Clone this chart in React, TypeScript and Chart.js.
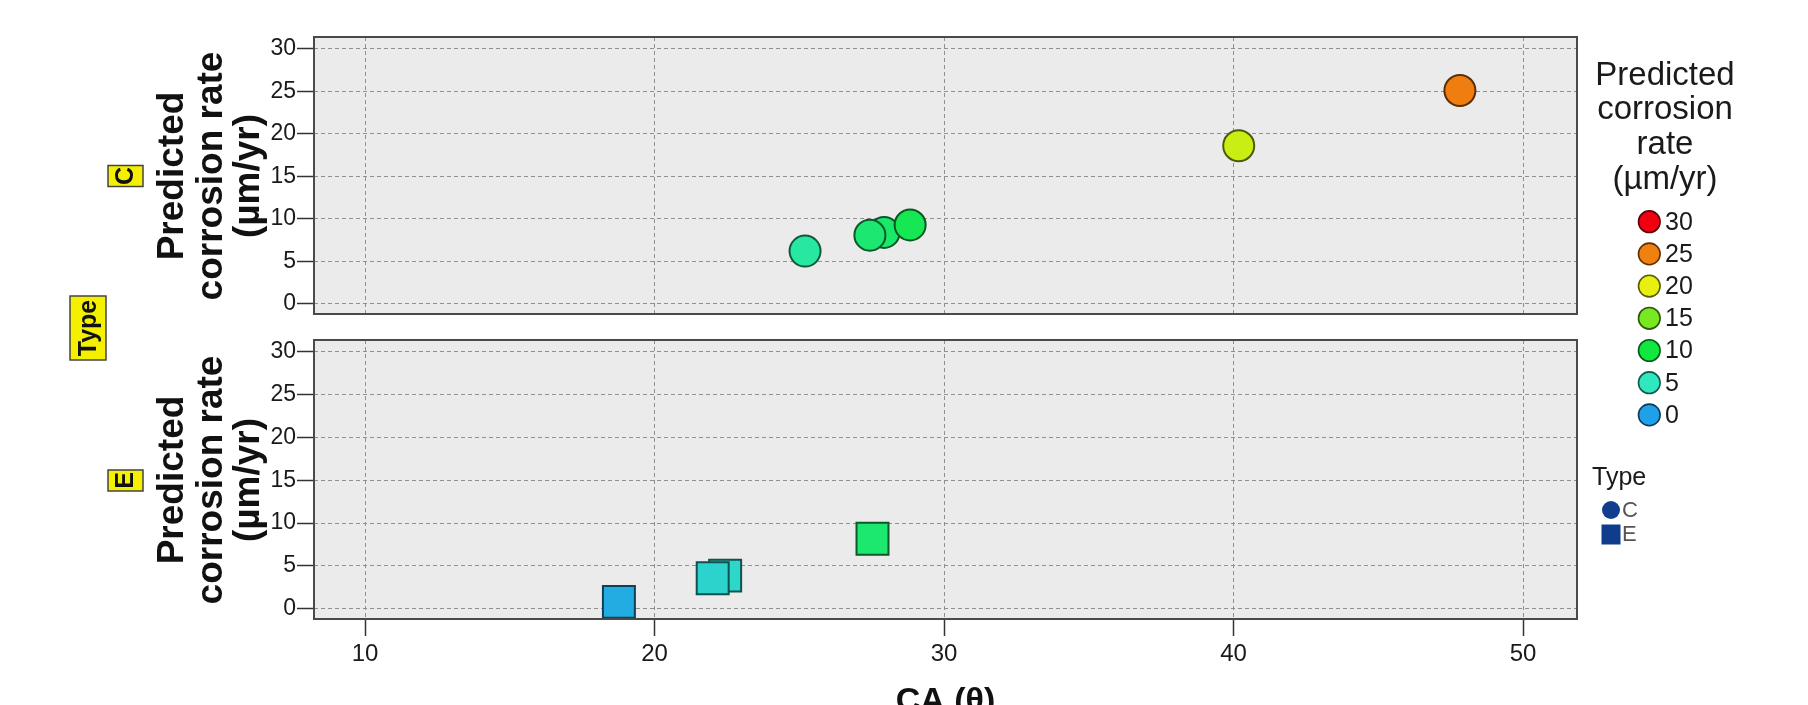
import React, { useEffect, useRef } from "react";
import { Chart, registerables } from "chart.js";

Chart.register(...registerables);

// ---- data ----
const X_TICKS = [10, 20, 30, 40, 50];
const Y_TICKS = [0, 5, 10, 15, 20, 25, 30];
const CA_C = [25.2, 27.93, 27.44, 28.83, 40.18, 47.82];
const RATE_C = [6.2, 8.4, 8.08, 9.28, 18.6, 25.1];
const CA_E = [18.77, 22.44, 22.01, 27.53];
const RATE_E = [0.8, 3.87, 3.56, 8.18];
const LEGEND_VALUES = [30, 25, 20, 15, 10, 5, 0];
const TYPE_LABELS = ["C", "E"];
const Y_TITLE = ["Predicted", "corrosion rate", "(µm/yr)"];
const LEGEND_TITLE = ["Predicted", "corrosion", "rate", "(µm/yr)"];
const X_TITLE = "CA (θ)";

// colour ramp (style)
const RAMP_STOPS = [0, 5, 10, 15, 20, 25, 30];
const RAMP_COLORS = [
  [32, 160, 232],
  [48, 232, 192],
  [16, 232, 64],
  [120, 232, 32],
  [232, 240, 16],
  [240, 128, 16],
  [240, 0, 16],
];

function ramp(v: number): number[] {
  if (v <= RAMP_STOPS[0]) return RAMP_COLORS[0];
  for (let i = 1; i < RAMP_STOPS.length; i++) {
    if (v <= RAMP_STOPS[i]) {
      const t = (v - RAMP_STOPS[i - 1]) / (RAMP_STOPS[i] - RAMP_STOPS[i - 1]);
      const a = RAMP_COLORS[i - 1];
      const b = RAMP_COLORS[i];
      return [0, 1, 2].map((k) => Math.round(a[k] + (b[k] - a[k]) * t));
    }
  }
  return RAMP_COLORS[RAMP_COLORS.length - 1];
}
const fillOf = (v: number) => {
  const c = ramp(v);
  return `rgb(${c[0]},${c[1]},${c[2]})`;
};
const borderOf = (v: number) => {
  const c = ramp(v).map((x) => Math.round(x * 0.38));
  return `rgb(${c[0]},${c[1]},${c[2]})`;
};

const FONT = "'Liberation Sans', Arial, Helvetica, sans-serif";
const W = 1808;
const H = 705;
const X_MIN = 8.238;
const X_MAX = 51.865;
const Y_MIN = -1.2;
const Y_MAX = 31.4;
const GRID_COLOR = "#909090";
const PANEL_BG = "#ebebeb";

function rotatedText(ctx: CanvasRenderingContext2D, text: string, x: number, y: number) {
  ctx.save();
  ctx.translate(x, y);
  ctx.rotate(-Math.PI / 2);
  ctx.fillText(text, 0, 0);
  ctx.restore();
}

function yTitle(ctx: CanvasRenderingContext2D, cy: number) {
  ctx.save();
  ctx.fillStyle = "#111";
  ctx.font = `bold 37px ${FONT}`;
  ctx.textAlign = "center";
  ctx.textBaseline = "alphabetic";
  const xs = [183, 222, 259];
  Y_TITLE.forEach((t, i) => rotatedText(ctx, t, xs[i], cy));
  ctx.restore();
}

function yellowLabel(ctx: CanvasRenderingContext2D, text: string, cx: number, cy: number, w: number, h: number, size: number) {
  ctx.save();
  ctx.fillStyle = "#f5ef00";
  ctx.fillRect(cx - w / 2, cy - h / 2, w, h);
  ctx.strokeStyle = "#444";
  ctx.lineWidth = 1.5;
  ctx.strokeRect(cx - w / 2, cy - h / 2, w, h);
  ctx.fillStyle = "#111";
  ctx.font = `bold ${size}px ${FONT}`;
  ctx.textAlign = "center";
  ctx.textBaseline = "middle";
  ctx.translate(cx + 1, cy);
  ctx.rotate(-Math.PI / 2);
  ctx.fillText(text, 0, 0);
  ctx.restore();
}

function panelBorder(chart: any) {
  const { ctx, chartArea: a } = chart;
  ctx.save();
  ctx.strokeStyle = "#4a4a4a";
  ctx.lineWidth = 2;
  ctx.strokeRect(a.left, a.top, a.right - a.left, a.bottom - a.top);
  ctx.restore();
}

function panelBg(chart: any) {
  const { ctx, chartArea: a } = chart;
  ctx.save();
  ctx.fillStyle = PANEL_BG;
  ctx.fillRect(a.left, a.top, a.right - a.left, a.bottom - a.top);
  ctx.restore();
}

const topPlugin = {
  id: "topDecor",
  beforeDraw(chart: any) {
    const ctx = chart.ctx;
    ctx.save();
    ctx.fillStyle = "#ffffff";
    ctx.fillRect(0, 0, W, H);
    ctx.restore();
    panelBg(chart);
  },
  afterDatasetsDraw(chart: any) {
    panelBorder(chart);
  },
  afterDraw(chart: any) {
    const ctx = chart.ctx as CanvasRenderingContext2D;
    yTitle(ctx, 176);
    yellowLabel(ctx, TYPE_LABELS[0], 125.5, 176, 35, 21, 25);
    yellowLabel(ctx, "Type", 88, 328, 36, 64, 25);
    yellowLabel(ctx, TYPE_LABELS[1], 125.5, 480.5, 35, 21, 25);

    // colour legend
    ctx.save();
    ctx.fillStyle = "#1a1a1a";
    ctx.font = `33px ${FONT}`;
    ctx.textAlign = "center";
    ctx.textBaseline = "alphabetic";
    const tb = [85, 119, 154, 189];
    LEGEND_TITLE.forEach((t, i) => ctx.fillText(t, 1665, tb[i]));
    LEGEND_VALUES.forEach((v, i) => {
      const cy = 221.7 + i * 32.2;
      ctx.beginPath();
      ctx.arc(1649.3, cy, 10.8, 0, Math.PI * 2);
      ctx.fillStyle = fillOf(v);
      ctx.fill();
      ctx.lineWidth = 1.6;
      ctx.strokeStyle = borderOf(v);
      ctx.stroke();
      ctx.fillStyle = "#1a1a1a";
      ctx.font = `25px ${FONT}`;
      ctx.textAlign = "left";
      ctx.textBaseline = "middle";
      ctx.fillText(String(v), 1665, cy + 1);
    });

    // type legend
    ctx.fillStyle = "#1a1a1a";
    ctx.font = `25px ${FONT}`;
    ctx.textAlign = "left";
    ctx.textBaseline = "alphabetic";
    ctx.fillText("Type", 1592, 485);
    ctx.beginPath();
    ctx.arc(1611, 510, 9, 0, Math.PI * 2);
    ctx.fillStyle = "#123d8f";
    ctx.fill();
    ctx.fillStyle = "#0f3c8c";
    ctx.fillRect(1601.5, 524.5, 19, 20);
    ctx.fillStyle = "#555";
    ctx.font = `22px ${FONT}`;
    ctx.textBaseline = "middle";
    ctx.fillText(TYPE_LABELS[0], 1622, 511);
    ctx.fillText(TYPE_LABELS[1], 1622, 535);
    ctx.restore();
  },
};

const bottomPlugin = {
  id: "bottomDecor",
  beforeDraw(chart: any) {
    panelBg(chart);
  },
  afterDatasetsDraw(chart: any) {
    panelBorder(chart);
  },
  afterDraw(chart: any) {
    const ctx = chart.ctx as CanvasRenderingContext2D;
    yTitle(ctx, 480);
    const a = chart.chartArea;
    ctx.save();
    ctx.fillStyle = "#111";
    ctx.font = `bold 34px ${FONT}`;
    ctx.textAlign = "center";
    ctx.textBaseline = "alphabetic";
    ctx.fillText(X_TITLE, (a.left + a.right) / 2, 711);
    ctx.restore();
  },
};

function yScale() {
  return {
    type: "linear",
    min: Y_MIN,
    max: Y_MAX,
    afterBuildTicks: (s: any) => {
      s.ticks = Y_TICKS.map((v) => ({ value: v }));
    },
    afterFit: (s: any) => {
      s.width = 314;
    },
    ticks: {
      font: { family: FONT, size: 23 },
      color: "#1a1a1a",
      padding: 1,
    },
    grid: {
      color: GRID_COLOR,
      lineWidth: 1,
      tickLength: 17,
      tickColor: "#333",
      tickWidth: 1.5,
      tickBorderDash: [],
    },
    border: { display: false, dash: [4, 3] },
  };
}

function xScale(bottom: boolean) {
  return {
    type: "linear",
    min: X_MIN,
    max: X_MAX,
    afterBuildTicks: (s: any) => {
      s.ticks = X_TICKS.map((v) => ({ value: v }));
    },
    afterFit: (s: any) => {
      s.height = bottom ? 86 : 0;
    },
    ticks: {
      display: bottom,
      font: { family: FONT, size: 24 },
      color: "#1a1a1a",
      padding: 4,
      maxRotation: 0,
    },
    grid: {
      color: GRID_COLOR,
      lineWidth: 1,
      drawTicks: bottom,
      tickLength: bottom ? 17 : 0,
      tickColor: "#333",
      tickWidth: 1.5,
      tickBorderDash: [],
    },
    border: { display: false, dash: [4, 3] },
  };
}

export default function App() {
  const topRef = useRef<HTMLCanvasElement>(null);
  const botRef = useRef<HTMLCanvasElement>(null);

  useEffect(() => {
    const top = new Chart(topRef.current as HTMLCanvasElement, {
      type: "scatter",
      data: {
        datasets: [
          {
            label: "C",
            data: CA_C.map((x, i) => ({ x, y: RATE_C[i] })),
            pointStyle: "circle",
            pointRadius: 15.5,
            pointHoverRadius: 15.5,
            pointBorderWidth: 2,
            pointBackgroundColor: RATE_C.map(fillOf),
            pointBorderColor: RATE_C.map(borderOf),
            showLine: false,
          },
        ],
      },
      options: {
        responsive: false,
        animation: false,
        devicePixelRatio: 1,
        events: [],
        layout: { padding: { left: 0, right: W - 1577, top: 37, bottom: H - 314 } },
        plugins: { legend: { display: false }, tooltip: { enabled: false } },
        scales: { x: xScale(false), y: yScale() } as any,
      },
      plugins: [topPlugin],
    } as any);

    const bot = new Chart(botRef.current as HTMLCanvasElement, {
      type: "scatter",
      data: {
        datasets: [
          {
            label: "E",
            data: CA_E.map((x, i) => ({ x, y: RATE_E[i] })),
            pointStyle: "rect",
            pointRadius: 22.6,
            pointHoverRadius: 22.6,
            pointBorderWidth: 2,
            pointBackgroundColor: RATE_E.map(fillOf),
            pointBorderColor: RATE_E.map(borderOf),
            showLine: false,
          },
        ],
      },
      options: {
        responsive: false,
        animation: false,
        devicePixelRatio: 1,
        events: [],
        layout: { padding: { left: 0, right: W - 1577, top: 340, bottom: 0 } },
        plugins: { legend: { display: false }, tooltip: { enabled: false } },
        scales: { x: xScale(true), y: yScale() } as any,
      },
      plugins: [bottomPlugin],
    } as any);

    return () => {
      top.destroy();
      bot.destroy();
    };
  }, []);

  return (
    <div style={{ position: "absolute", left: 0, top: 0, width: W, height: H, background: "#fff", overflow: "hidden" }}>
      <canvas ref={topRef} width={W} height={H} style={{ position: "absolute", left: 0, top: 0, width: W, height: H }} />
      <canvas ref={botRef} width={W} height={H} style={{ position: "absolute", left: 0, top: 0, width: W, height: H }} />
    </div>
  );
}
